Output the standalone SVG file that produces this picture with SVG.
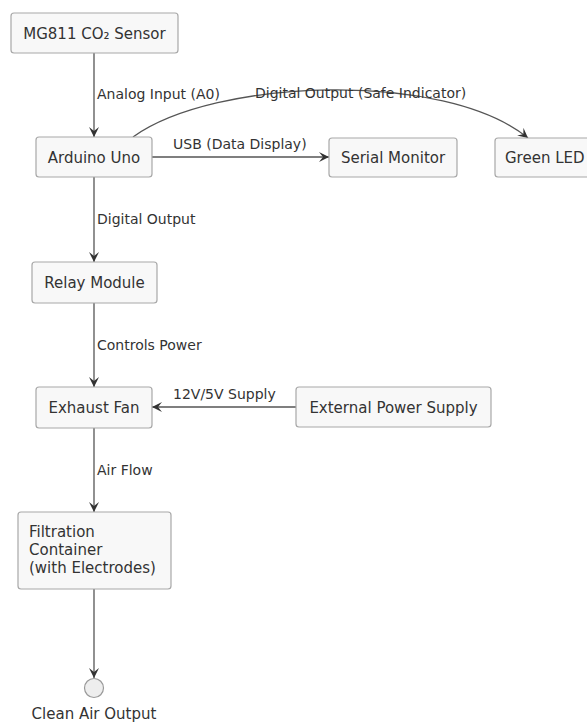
<svg xmlns="http://www.w3.org/2000/svg" width="587" height="722" viewBox="0 0 587 722">
<style>
.box{fill:#f8f8f8;stroke:#a8a8a8;stroke-width:1.2}
.nt{font-family:"DejaVu Sans",sans-serif;font-size:15px;fill:#333}
.lt{font-family:"DejaVu Sans",sans-serif;font-size:14px;fill:#333}
.edge{fill:none;stroke:#555;stroke-width:1.3}
</style>
<defs>
<marker id="arr" markerUnits="userSpaceOnUse" markerWidth="12" markerHeight="10" refX="10" refY="5" orient="auto">
<path d="M0,0 L10,5 L0,10 L4,5 Z" fill="#333"/>
</marker>
</defs>
<rect width="587" height="722" fill="#ffffff"/>
<g id="connectors">
<line class="edge" x1="94" y1="53" x2="94" y2="137" marker-end="url(#arr)"/>
<text class="lt" x="97" y="99">Analog Input (A0)</text>
<line class="edge" x1="152" y1="157" x2="329" y2="157" marker-end="url(#arr)"/>
<text class="lt" x="173" y="149">USB (Data Display)</text>
<path class="edge" d="M133,137 C215,78 445,70 528,138" marker-end="url(#arr)"/>
<text class="lt" x="255" y="98">Digital Output (Safe Indicator)</text>
<line class="edge" x1="94" y1="177" x2="94" y2="262" marker-end="url(#arr)"/>
<text class="lt" x="97" y="224">Digital Output</text>
<line class="edge" x1="94" y1="303" x2="94" y2="387" marker-end="url(#arr)"/>
<text class="lt" x="97" y="350">Controls Power</text>
<line class="edge" x1="296" y1="407" x2="152" y2="407" marker-end="url(#arr)"/>
<text class="lt" x="173" y="399">12V/5V Supply</text>
<line class="edge" x1="94" y1="428" x2="94" y2="512" marker-end="url(#arr)"/>
<text class="lt" x="97" y="475">Air Flow</text>
<line class="edge" x1="94" y1="589" x2="94" y2="678" marker-end="url(#arr)"/>
</g>
<g id="sensor">
<rect class="box" x="11" y="13" width="167" height="40" rx="3"/>
<text class="nt" x="94.5" y="38.5" text-anchor="middle">MG811 CO₂ Sensor</text>
</g>
<g id="arduino">
<rect class="box" x="36" y="137" width="116" height="40" rx="3"/>
<text class="nt" x="94" y="162.5" text-anchor="middle">Arduino Uno</text>
</g>
<g id="serial">
<rect class="box" x="329" y="138" width="128" height="39" rx="3"/>
<text class="nt" x="393" y="163" text-anchor="middle">Serial Monitor</text>
</g>
<g id="led">
<rect class="box" x="495" y="138" width="102" height="39" rx="3"/>
<text class="nt" x="505" y="163">Green LED</text>
</g>
<g id="relay">
<rect class="box" x="32" y="262" width="125" height="41" rx="3"/>
<text class="nt" x="94.5" y="288" text-anchor="middle">Relay Module</text>
</g>
<g id="fan">
<rect class="box" x="36" y="387" width="116" height="41" rx="3"/>
<text class="nt" x="94" y="413" text-anchor="middle">Exhaust Fan</text>
</g>
<g id="power">
<rect class="box" x="296" y="387" width="195" height="40" rx="3"/>
<text class="nt" x="393.5" y="412.5" text-anchor="middle">External Power Supply</text>
</g>
<g id="filter">
<rect class="box" x="18" y="512" width="153" height="77" rx="3"/>
<text class="nt" x="29" y="537">Filtration</text>
<text class="nt" x="29" y="555">Container</text>
<text class="nt" x="29" y="573">(with Electrodes)</text>
</g>
<g id="output">
<circle cx="94" cy="688" r="9.5" fill="#eeeeee" stroke="#999" stroke-width="1.2"/>
<text class="nt" x="94" y="719" text-anchor="middle">Clean Air Output</text>
</g>
</svg>
